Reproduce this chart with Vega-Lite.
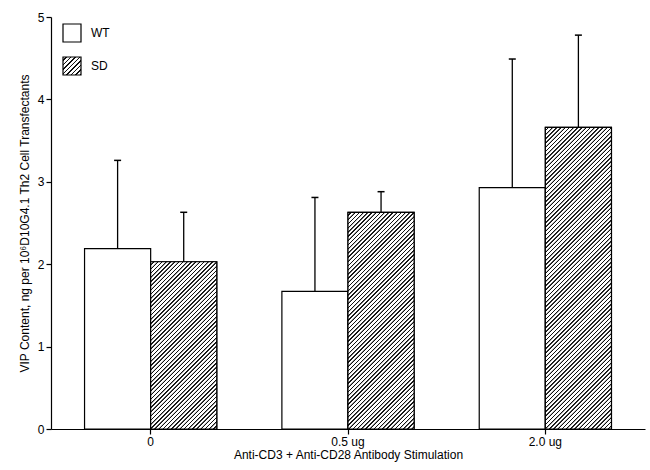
{
"$schema": "https://vega.github.io/schema/vega-lite/v6.json",
"width": 594, "height": 412,
"autosize": {"type": "none"},
"padding": {"left": 51, "top": 17, "right": 5, "bottom": 41},
"config": {"view": {"stroke": null}, "font": "Liberation Sans", "background": "white"},
"params": [
{"name": "hatchS", "value": [
{"offset":0,"color":"#fff"},{"offset":0.069,"color":"#fff"},{"offset":0.081,"color":"#111"},{"offset":0.1125,"color":"#111"},
{"offset":0.125,"color":"#fff"},{"offset":0.194,"color":"#fff"},{"offset":0.206,"color":"#111"},{"offset":0.2375,"color":"#111"},
{"offset":0.25,"color":"#fff"},{"offset":0.319,"color":"#fff"},{"offset":0.331,"color":"#111"},{"offset":0.3625,"color":"#111"},
{"offset":0.375,"color":"#fff"},{"offset":0.444,"color":"#fff"},{"offset":0.456,"color":"#111"},{"offset":0.4875,"color":"#111"},
{"offset":0.5,"color":"#fff"},{"offset":0.569,"color":"#fff"},{"offset":0.581,"color":"#111"},{"offset":0.6125,"color":"#111"},
{"offset":0.625,"color":"#fff"},{"offset":0.694,"color":"#fff"},{"offset":0.706,"color":"#111"},{"offset":0.7375,"color":"#111"},
{"offset":0.75,"color":"#fff"},{"offset":0.819,"color":"#fff"},{"offset":0.831,"color":"#111"},{"offset":0.8625,"color":"#111"},
{"offset":0.875,"color":"#fff"},{"offset":0.944,"color":"#fff"},{"offset":0.956,"color":"#111"},{"offset":0.9875,"color":"#111"},
{"offset":1,"color":"#fff"}
]},
{"name": "hatch", "value": [
{"offset":0,"color":"#fff"},{"offset":0.0055,"color":"#fff"},{"offset":0.0065,"color":"#111"},{"offset":0.009,"color":"#111"},
{"offset":0.01,"color":"#fff"},{"offset":0.0155,"color":"#fff"},{"offset":0.0165,"color":"#111"},{"offset":0.019,"color":"#111"},
{"offset":0.02,"color":"#fff"},{"offset":0.0255,"color":"#fff"},{"offset":0.0265,"color":"#111"},{"offset":0.029,"color":"#111"},
{"offset":0.03,"color":"#fff"},{"offset":0.0355,"color":"#fff"},{"offset":0.0365,"color":"#111"},{"offset":0.039,"color":"#111"},
{"offset":0.04,"color":"#fff"},{"offset":0.0455,"color":"#fff"},{"offset":0.0465,"color":"#111"},{"offset":0.049,"color":"#111"},
{"offset":0.05,"color":"#fff"},{"offset":0.0555,"color":"#fff"},{"offset":0.0565,"color":"#111"},{"offset":0.059,"color":"#111"},
{"offset":0.06,"color":"#fff"},{"offset":0.0655,"color":"#fff"},{"offset":0.0665,"color":"#111"},{"offset":0.069,"color":"#111"},
{"offset":0.07,"color":"#fff"},{"offset":0.0755,"color":"#fff"},{"offset":0.0765,"color":"#111"},{"offset":0.079,"color":"#111"},
{"offset":0.08,"color":"#fff"},{"offset":0.0855,"color":"#fff"},{"offset":0.0865,"color":"#111"},{"offset":0.089,"color":"#111"},
{"offset":0.09,"color":"#fff"},{"offset":0.0955,"color":"#fff"},{"offset":0.0965,"color":"#111"},{"offset":0.099,"color":"#111"},
{"offset":0.10,"color":"#fff"},{"offset":0.1055,"color":"#fff"},{"offset":0.1065,"color":"#111"},{"offset":0.109,"color":"#111"},
{"offset":0.11,"color":"#fff"},{"offset":0.1155,"color":"#fff"},{"offset":0.1165,"color":"#111"},{"offset":0.119,"color":"#111"},
{"offset":0.12,"color":"#fff"},{"offset":0.1255,"color":"#fff"},{"offset":0.1265,"color":"#111"},{"offset":0.129,"color":"#111"},
{"offset":0.13,"color":"#fff"},{"offset":0.1355,"color":"#fff"},{"offset":0.1365,"color":"#111"},{"offset":0.139,"color":"#111"},
{"offset":0.14,"color":"#fff"},{"offset":0.1455,"color":"#fff"},{"offset":0.1465,"color":"#111"},{"offset":0.149,"color":"#111"},
{"offset":0.15,"color":"#fff"},{"offset":0.1555,"color":"#fff"},{"offset":0.1565,"color":"#111"},{"offset":0.159,"color":"#111"},
{"offset":0.16,"color":"#fff"},{"offset":0.1655,"color":"#fff"},{"offset":0.1665,"color":"#111"},{"offset":0.169,"color":"#111"},
{"offset":0.17,"color":"#fff"},{"offset":0.1755,"color":"#fff"},{"offset":0.1765,"color":"#111"},{"offset":0.179,"color":"#111"},
{"offset":0.18,"color":"#fff"},{"offset":0.1855,"color":"#fff"},{"offset":0.1865,"color":"#111"},{"offset":0.189,"color":"#111"},
{"offset":0.19,"color":"#fff"},{"offset":0.1955,"color":"#fff"},{"offset":0.1965,"color":"#111"},{"offset":0.199,"color":"#111"},
{"offset":0.20,"color":"#fff"},{"offset":0.2055,"color":"#fff"},{"offset":0.2065,"color":"#111"},{"offset":0.209,"color":"#111"},
{"offset":0.21,"color":"#fff"},{"offset":0.2155,"color":"#fff"},{"offset":0.2165,"color":"#111"},{"offset":0.219,"color":"#111"},
{"offset":0.22,"color":"#fff"},{"offset":0.2255,"color":"#fff"},{"offset":0.2265,"color":"#111"},{"offset":0.229,"color":"#111"},
{"offset":0.23,"color":"#fff"},{"offset":0.2355,"color":"#fff"},{"offset":0.2365,"color":"#111"},{"offset":0.239,"color":"#111"},
{"offset":0.24,"color":"#fff"},{"offset":0.2455,"color":"#fff"},{"offset":0.2465,"color":"#111"},{"offset":0.249,"color":"#111"},
{"offset":0.25,"color":"#fff"},{"offset":0.2555,"color":"#fff"},{"offset":0.2565,"color":"#111"},{"offset":0.259,"color":"#111"},
{"offset":0.26,"color":"#fff"},{"offset":0.2655,"color":"#fff"},{"offset":0.2665,"color":"#111"},{"offset":0.269,"color":"#111"},
{"offset":0.27,"color":"#fff"},{"offset":0.2755,"color":"#fff"},{"offset":0.2765,"color":"#111"},{"offset":0.279,"color":"#111"},
{"offset":0.28,"color":"#fff"},{"offset":0.2855,"color":"#fff"},{"offset":0.2865,"color":"#111"},{"offset":0.289,"color":"#111"},
{"offset":0.29,"color":"#fff"},{"offset":0.2955,"color":"#fff"},{"offset":0.2965,"color":"#111"},{"offset":0.299,"color":"#111"},
{"offset":0.30,"color":"#fff"},{"offset":0.3055,"color":"#fff"},{"offset":0.3065,"color":"#111"},{"offset":0.309,"color":"#111"},
{"offset":0.31,"color":"#fff"},{"offset":0.3155,"color":"#fff"},{"offset":0.3165,"color":"#111"},{"offset":0.319,"color":"#111"},
{"offset":0.32,"color":"#fff"},{"offset":0.3255,"color":"#fff"},{"offset":0.3265,"color":"#111"},{"offset":0.329,"color":"#111"},
{"offset":0.33,"color":"#fff"},{"offset":0.3355,"color":"#fff"},{"offset":0.3365,"color":"#111"},{"offset":0.339,"color":"#111"},
{"offset":0.34,"color":"#fff"},{"offset":0.3455,"color":"#fff"},{"offset":0.3465,"color":"#111"},{"offset":0.349,"color":"#111"},
{"offset":0.35,"color":"#fff"},{"offset":0.3555,"color":"#fff"},{"offset":0.3565,"color":"#111"},{"offset":0.359,"color":"#111"},
{"offset":0.36,"color":"#fff"},{"offset":0.3655,"color":"#fff"},{"offset":0.3665,"color":"#111"},{"offset":0.369,"color":"#111"},
{"offset":0.37,"color":"#fff"},{"offset":0.3755,"color":"#fff"},{"offset":0.3765,"color":"#111"},{"offset":0.379,"color":"#111"},
{"offset":0.38,"color":"#fff"},{"offset":0.3855,"color":"#fff"},{"offset":0.3865,"color":"#111"},{"offset":0.389,"color":"#111"},
{"offset":0.39,"color":"#fff"},{"offset":0.3955,"color":"#fff"},{"offset":0.3965,"color":"#111"},{"offset":0.399,"color":"#111"},
{"offset":0.40,"color":"#fff"},{"offset":0.4055,"color":"#fff"},{"offset":0.4065,"color":"#111"},{"offset":0.409,"color":"#111"},
{"offset":0.41,"color":"#fff"},{"offset":0.4155,"color":"#fff"},{"offset":0.4165,"color":"#111"},{"offset":0.419,"color":"#111"},
{"offset":0.42,"color":"#fff"},{"offset":0.4255,"color":"#fff"},{"offset":0.4265,"color":"#111"},{"offset":0.429,"color":"#111"},
{"offset":0.43,"color":"#fff"},{"offset":0.4355,"color":"#fff"},{"offset":0.4365,"color":"#111"},{"offset":0.439,"color":"#111"},
{"offset":0.44,"color":"#fff"},{"offset":0.4455,"color":"#fff"},{"offset":0.4465,"color":"#111"},{"offset":0.449,"color":"#111"},
{"offset":0.45,"color":"#fff"},{"offset":0.4555,"color":"#fff"},{"offset":0.4565,"color":"#111"},{"offset":0.459,"color":"#111"},
{"offset":0.46,"color":"#fff"},{"offset":0.4655,"color":"#fff"},{"offset":0.4665,"color":"#111"},{"offset":0.469,"color":"#111"},
{"offset":0.47,"color":"#fff"},{"offset":0.4755,"color":"#fff"},{"offset":0.4765,"color":"#111"},{"offset":0.479,"color":"#111"},
{"offset":0.48,"color":"#fff"},{"offset":0.4855,"color":"#fff"},{"offset":0.4865,"color":"#111"},{"offset":0.489,"color":"#111"},
{"offset":0.49,"color":"#fff"},{"offset":0.4955,"color":"#fff"},{"offset":0.4965,"color":"#111"},{"offset":0.499,"color":"#111"},
{"offset":0.50,"color":"#fff"},{"offset":0.5055,"color":"#fff"},{"offset":0.5065,"color":"#111"},{"offset":0.509,"color":"#111"},
{"offset":0.51,"color":"#fff"},{"offset":0.5155,"color":"#fff"},{"offset":0.5165,"color":"#111"},{"offset":0.519,"color":"#111"},
{"offset":0.52,"color":"#fff"},{"offset":0.5255,"color":"#fff"},{"offset":0.5265,"color":"#111"},{"offset":0.529,"color":"#111"},
{"offset":0.53,"color":"#fff"},{"offset":0.5355,"color":"#fff"},{"offset":0.5365,"color":"#111"},{"offset":0.539,"color":"#111"},
{"offset":0.54,"color":"#fff"},{"offset":0.5455,"color":"#fff"},{"offset":0.5465,"color":"#111"},{"offset":0.549,"color":"#111"},
{"offset":0.55,"color":"#fff"},{"offset":0.5555,"color":"#fff"},{"offset":0.5565,"color":"#111"},{"offset":0.559,"color":"#111"},
{"offset":0.56,"color":"#fff"},{"offset":0.5655,"color":"#fff"},{"offset":0.5665,"color":"#111"},{"offset":0.569,"color":"#111"},
{"offset":0.57,"color":"#fff"},{"offset":0.5755,"color":"#fff"},{"offset":0.5765,"color":"#111"},{"offset":0.579,"color":"#111"},
{"offset":0.58,"color":"#fff"},{"offset":0.5855,"color":"#fff"},{"offset":0.5865,"color":"#111"},{"offset":0.589,"color":"#111"},
{"offset":0.59,"color":"#fff"},{"offset":0.5955,"color":"#fff"},{"offset":0.5965,"color":"#111"},{"offset":0.599,"color":"#111"},
{"offset":0.60,"color":"#fff"},{"offset":0.6055,"color":"#fff"},{"offset":0.6065,"color":"#111"},{"offset":0.609,"color":"#111"},
{"offset":0.61,"color":"#fff"},{"offset":0.6155,"color":"#fff"},{"offset":0.6165,"color":"#111"},{"offset":0.619,"color":"#111"},
{"offset":0.62,"color":"#fff"},{"offset":0.6255,"color":"#fff"},{"offset":0.6265,"color":"#111"},{"offset":0.629,"color":"#111"},
{"offset":0.63,"color":"#fff"},{"offset":0.6355,"color":"#fff"},{"offset":0.6365,"color":"#111"},{"offset":0.639,"color":"#111"},
{"offset":0.64,"color":"#fff"},{"offset":0.6455,"color":"#fff"},{"offset":0.6465,"color":"#111"},{"offset":0.649,"color":"#111"},
{"offset":0.65,"color":"#fff"},{"offset":0.6555,"color":"#fff"},{"offset":0.6565,"color":"#111"},{"offset":0.659,"color":"#111"},
{"offset":0.66,"color":"#fff"},{"offset":0.6655,"color":"#fff"},{"offset":0.6665,"color":"#111"},{"offset":0.669,"color":"#111"},
{"offset":0.67,"color":"#fff"},{"offset":0.6755,"color":"#fff"},{"offset":0.6765,"color":"#111"},{"offset":0.679,"color":"#111"},
{"offset":0.68,"color":"#fff"},{"offset":0.6855,"color":"#fff"},{"offset":0.6865,"color":"#111"},{"offset":0.689,"color":"#111"},
{"offset":0.69,"color":"#fff"},{"offset":0.6955,"color":"#fff"},{"offset":0.6965,"color":"#111"},{"offset":0.699,"color":"#111"},
{"offset":0.70,"color":"#fff"},{"offset":0.7055,"color":"#fff"},{"offset":0.7065,"color":"#111"},{"offset":0.709,"color":"#111"},
{"offset":0.71,"color":"#fff"},{"offset":0.7155,"color":"#fff"},{"offset":0.7165,"color":"#111"},{"offset":0.719,"color":"#111"},
{"offset":0.72,"color":"#fff"},{"offset":0.7255,"color":"#fff"},{"offset":0.7265,"color":"#111"},{"offset":0.729,"color":"#111"},
{"offset":0.73,"color":"#fff"},{"offset":0.7355,"color":"#fff"},{"offset":0.7365,"color":"#111"},{"offset":0.739,"color":"#111"},
{"offset":0.74,"color":"#fff"},{"offset":0.7455,"color":"#fff"},{"offset":0.7465,"color":"#111"},{"offset":0.749,"color":"#111"},
{"offset":0.75,"color":"#fff"},{"offset":0.7555,"color":"#fff"},{"offset":0.7565,"color":"#111"},{"offset":0.759,"color":"#111"},
{"offset":0.76,"color":"#fff"},{"offset":0.7655,"color":"#fff"},{"offset":0.7665,"color":"#111"},{"offset":0.769,"color":"#111"},
{"offset":0.77,"color":"#fff"},{"offset":0.7755,"color":"#fff"},{"offset":0.7765,"color":"#111"},{"offset":0.779,"color":"#111"},
{"offset":0.78,"color":"#fff"},{"offset":0.7855,"color":"#fff"},{"offset":0.7865,"color":"#111"},{"offset":0.789,"color":"#111"},
{"offset":0.79,"color":"#fff"},{"offset":0.7955,"color":"#fff"},{"offset":0.7965,"color":"#111"},{"offset":0.799,"color":"#111"},
{"offset":0.80,"color":"#fff"},{"offset":0.8055,"color":"#fff"},{"offset":0.8065,"color":"#111"},{"offset":0.809,"color":"#111"},
{"offset":0.81,"color":"#fff"},{"offset":0.8155,"color":"#fff"},{"offset":0.8165,"color":"#111"},{"offset":0.819,"color":"#111"},
{"offset":0.82,"color":"#fff"},{"offset":0.8255,"color":"#fff"},{"offset":0.8265,"color":"#111"},{"offset":0.829,"color":"#111"},
{"offset":0.83,"color":"#fff"},{"offset":0.8355,"color":"#fff"},{"offset":0.8365,"color":"#111"},{"offset":0.839,"color":"#111"},
{"offset":0.84,"color":"#fff"},{"offset":0.8455,"color":"#fff"},{"offset":0.8465,"color":"#111"},{"offset":0.849,"color":"#111"},
{"offset":0.85,"color":"#fff"},{"offset":0.8555,"color":"#fff"},{"offset":0.8565,"color":"#111"},{"offset":0.859,"color":"#111"},
{"offset":0.86,"color":"#fff"},{"offset":0.8655,"color":"#fff"},{"offset":0.8665,"color":"#111"},{"offset":0.869,"color":"#111"},
{"offset":0.87,"color":"#fff"},{"offset":0.8755,"color":"#fff"},{"offset":0.8765,"color":"#111"},{"offset":0.879,"color":"#111"},
{"offset":0.88,"color":"#fff"},{"offset":0.8855,"color":"#fff"},{"offset":0.8865,"color":"#111"},{"offset":0.889,"color":"#111"},
{"offset":0.89,"color":"#fff"},{"offset":1,"color":"#fff"}
]}
],
"data": {"values": [
{"dose":"0","group":"WT","value":2.19,"upper":3.26},
{"dose":"0","group":"SD","value":2.03,"upper":2.63},
{"dose":"0.5 ug","group":"WT","value":1.67,"upper":2.81},
{"dose":"0.5 ug","group":"SD","value":2.63,"upper":2.88},
{"dose":"2.0 ug","group":"WT","value":2.93,"upper":4.49},
{"dose":"2.0 ug","group":"SD","value":3.66,"upper":4.78}
]},
"encoding": {
"x": {"field":"dose","type":"nominal","sort":["0","0.5 ug","2.0 ug"],
 "scale":{"paddingInner":0.33,"paddingOuter":0.17},
 "axis":{"title":"Anti-CD3 + Anti-CD28 Antibody Stimulation","labelAngle":0,"tickSize":5,"tickColor":"black","tickWidth":1.2,"domainColor":"black","domainWidth":1.2,"labelFontSize":12,"labelColor":"black","labelPadding":2,"titleFontSize":12,"titleFontWeight":"normal","titleColor":"black","titlePadding":2}},
"xOffset": {"field":"group","type":"nominal","sort":["WT","SD"],"scale":{"paddingInner":0,"paddingOuter":0}}
},
"layer": [
{"mark": {"type":"bar","stroke":"black","strokeWidth":1.2},
 "encoding": {
  "y": {"field":"value","type":"quantitative","scale":{"domain":[0,5]},
   "axis":{"values":[0,1,2,3,4,5],"format":"d","title":"VIP Content, ng per 10⁶D10G4.1 Th2  Cell Transfectants","grid":false,"tickSize":5,"tickColor":"black","tickWidth":1.2,"domainColor":"black","domainWidth":1.2,"labelFontSize":12,"labelColor":"black","labelPadding":2,"titleFontSize":12,"titleFontWeight":"normal","titleColor":"black","titlePadding":6}},
  "fill": {"field":"group","type":"nominal","sort":["WT","SD"],
   "scale":{"domain":["WT","SD"],"range":["white",{"expr":"{gradient:'linear',x1:0,y1:0,x2:1,y2:1,stops:hatchS}"}]},
   "legend":{"orient":"none","legendX":11,"legendY":6,"title":null,"symbolType":"square","symbolSize":324,"symbolStrokeColor":"black","symbolStrokeWidth":1.2,"symbolOpacity":1,"labelFontSize":12,"labelColor":"black","labelOffset":9,"rowPadding":9,"padding":0}}
 }},
{"transform":[{"filter":"datum.group === 'SD'"}],
 "mark": {"type":"bar","stroke":"black","strokeWidth":1.2,
  "fill":{"expr":"{gradient:'linear',x1:0,y1:0,x2:420*bandwidth('xOffset')/(pow(bandwidth('xOffset'),2)+pow(scale('y',0)-scale('y',datum.value),2)),y2:420*(scale('y',0)-scale('y',datum.value))/(pow(bandwidth('xOffset'),2)+pow(scale('y',0)-scale('y',datum.value),2)),stops:hatch}"}},
 "encoding": {"y": {"field":"value","type":"quantitative"}}},
{"mark": {"type":"rule","color":"black","strokeWidth":1.3},
 "encoding": {"y": {"field":"value","type":"quantitative"},"y2":{"field":"upper"}}},
{"mark": {"type":"tick","color":"black","size":7,"thickness":1.5,"opacity":1},
 "encoding": {"y": {"field":"upper","type":"quantitative"}}}
]
}
